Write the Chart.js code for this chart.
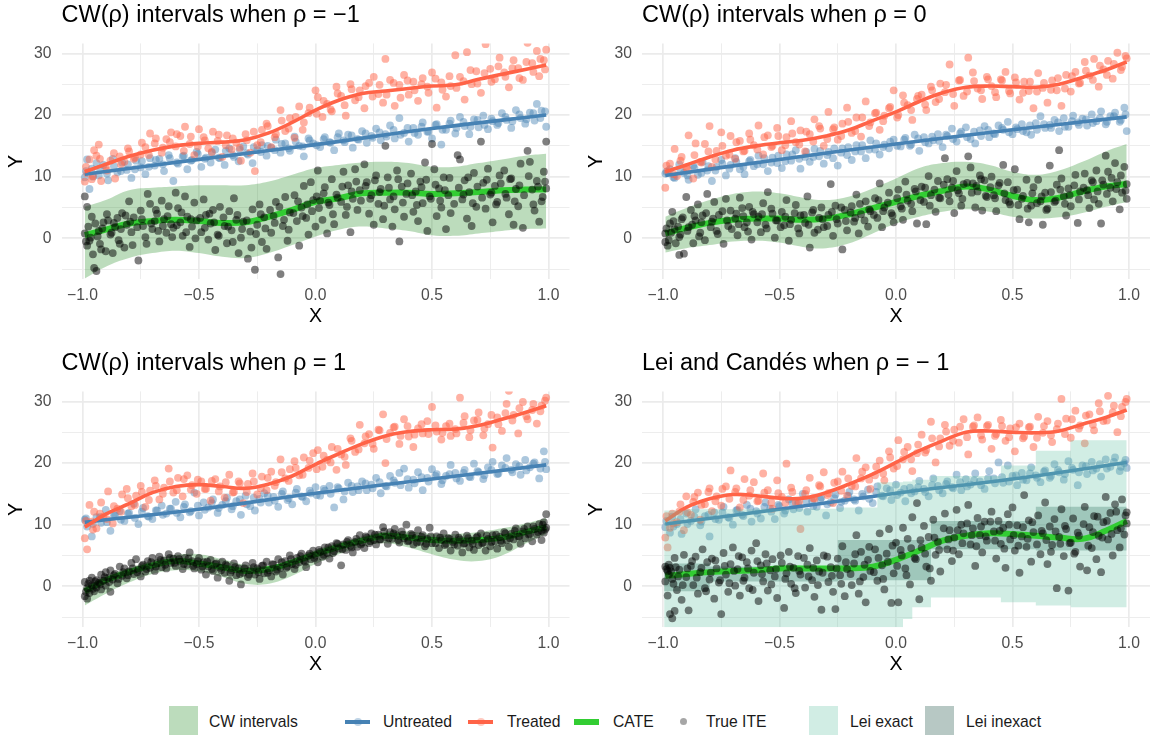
<!DOCTYPE html>
<html><head><meta charset="utf-8">
<script src="https://cdn.jsdelivr.net/npm/chart.js@4.4.0/dist/chart.umd.min.js"></script>
<style>
html,body{margin:0;padding:0;background:#fff;}
body{width:1154px;height:736px;position:relative;overflow:hidden;font-family:"Liberation Sans",Arial,sans-serif;}
canvas{position:absolute;}
.lg{position:absolute;font-size:15.7px;color:#1a1a1a;line-height:18px;top:712.7px;white-space:nowrap;}
.sw{position:absolute;top:706px;width:29px;height:29px;}
.ln{position:absolute;width:25px;}
.dot{position:absolute;border-radius:50%;}
</style></head><body>
<canvas id="c1" width="577" height="347" style="left:0;top:0"></canvas>
<canvas id="c2" width="577" height="347" style="left:577px;top:0"></canvas>
<canvas id="c3" width="577" height="347" style="left:0;top:348px"></canvas>
<canvas id="c4" width="577" height="347" style="left:577px;top:348px"></canvas>

<div class="sw" style="left:169px;background:rgba(34,139,34,0.3)"></div>
<div class="lg" style="left:209px">CW intervals</div>
<div class="ln" style="left:345px;top:719.5px;height:4px;background:#4682B4"></div>
<div class="dot" style="left:353.5px;top:717.5px;width:8px;height:8px;background:rgba(70,130,180,0.35)"></div>
<div class="lg" style="left:383px">Untreated</div>
<div class="ln" style="left:468px;top:719.5px;height:4px;background:#FF6347"></div>
<div class="dot" style="left:476.5px;top:717.5px;width:8px;height:8px;background:rgba(255,99,71,0.35)"></div>
<div class="lg" style="left:507px">Treated</div>
<div class="ln" style="left:574px;top:718.5px;height:6px;background:#32CD32"></div>
<div class="lg" style="left:613px">CATE</div>
<div class="dot" style="left:679.5px;top:718px;width:7px;height:7px;background:rgba(0,0,0,0.35)"></div>
<div class="lg" style="left:706px">True ITE</div>
<div class="sw" style="left:809px;background:rgba(102,194,165,0.3)"></div>
<div class="lg" style="left:850px">Lei exact</div>
<div class="sw" style="left:925px;background:rgba(18,72,58,0.3)"></div>
<div class="lg" style="left:966px">Lei inexact</div>

<script>
// ---------- axis ticks ----------
const xGrid = [-1,-0.75,-0.5,-0.25,0,0.25,0.5,0.75,1];
const xTickLabels = {"-1":"−1.0","-0.5":"−0.5","0":"0.0","0.5":"0.5","1":"1.0"};
const yGrid = [-5,0,5,10,15,20,25,30];
const yTickLabels = {"0":"0","10":"10","20":"20","30":"30"};

// ---------- titles ----------
const titles = ["CW(ρ) intervals when ρ = −1","CW(ρ) intervals when ρ = 0","CW(ρ) intervals when ρ = 1","Lei and Candés when ρ = − 1"];

// ---------- curve x positions ----------
const curveX = [-0.99,-0.9,-0.8,-0.7,-0.6,-0.5,-0.4,-0.3,-0.2,-0.1,0,0.1,0.2,0.3,0.4,0.5,0.6,0.7,0.8,0.9,0.99];
const untreatedX = [-0.99,-0.5,0,0.5,0.99];

// ---------- panel 1 (rho = -1) ----------
const p1TreatedCurve = [10.8,12.0,13.3,14.3,15.0,15.4,15.6,16.0,17.1,18.8,20.8,22.4,23.5,23.9,24.3,24.7,24.9,25.8,26.6,27.4,28.1];
const p1UntreatedCurve = [10.4,12.8,15.2,17.8,20.0];
const p1Cate = [0.5,1.4,2.4,2.8,3.0,2.8,2.5,2.6,3.5,4.6,5.9,6.5,7.3,7.4,7.4,7.2,7.3,7.5,7.8,7.9,7.9];
const p1Upper = [5.1,6.2,7.8,8.2,8.4,8.6,8.6,8.6,9.2,10.3,11.4,11.9,12.3,12.4,12.2,11.6,11.6,12.2,12.8,13.4,13.7];
const p1Lower = [-6.5,-4.6,-3.2,-2.4,-2.0,-2.4,-3.0,-3.2,-2.4,-1.1,0.3,1.4,1.9,1.6,1.2,0.5,0.4,0.8,1.2,1.5,1.6];
const p1Treated = [[-0.99,9.2],[-0.98,10.6],[-0.97,12.8],[-0.96,9.6],[-0.95,14.3],[-0.94,13.4],[-0.93,15.2],[-0.92,9.3],[-0.9,11.7],[-0.88,12.6],[-0.86,9.7],[-0.84,13.3],[-0.82,12.4],[-0.8,14.1],[-0.78,12.9],[-0.75,13.6],[-0.73,14.8],[-0.71,17.0],[-0.69,15.4],[-0.66,13.9],[-0.64,16.1],[-0.62,17.2],[-0.6,14.9],[-0.58,16.6],[-0.56,18.1],[-0.54,15.3],[-0.52,13.5],[-0.5,17.7],[-0.48,16.4],[-0.46,14.6],[-0.44,17.3],[-0.42,15.8],[-0.4,13.2],[-0.38,16.7],[-0.36,14.4],[-0.34,15.5],[-0.32,12.6],[-0.3,16.9],[-0.28,13.9],[-0.26,10.9],[-0.25,15.1],[-0.23,17.6],[-0.21,18.6],[-0.19,14.8],[-0.17,16.9],[-0.15,20.8],[-0.13,17.4],[-0.11,19.5],[-0.09,16.3],[-0.07,21.4],[-0.05,18.8],[-0.03,20.3],[0,24.0],[0.01,22.9],[0.03,19.7],[0.05,21.8],[0.07,20.6],[0.09,24.6],[0.11,23.1],[0.13,19.9],[0.15,25.0],[0.17,22.4],[0.19,24.0],[0.21,21.1],[0.23,25.2],[0.25,26.2],[0.27,23.4],[0.29,22.0],[0.3,29.1],[0.32,25.7],[0.34,21.5],[0.36,24.9],[0.38,26.5],[0.4,23.3],[0.42,25.4],[0.44,22.3],[0.46,26.0],[0.48,24.6],[0.5,26.9],[0.52,21.2],[0.54,25.3],[0.56,23.0],[0.58,24.7],[0.6,29.7],[0.62,26.2],[0.64,22.5],[0.65,30.2],[0.67,25.0],[0.69,27.1],[0.71,23.6],[0.73,31.5],[0.75,27.5],[0.77,25.8],[0.79,29.3],[0.81,26.9],[0.83,24.5],[0.85,28.9],[0.87,27.6],[0.89,25.7],[0.91,31.7],[0.93,28.4],[0.95,30.4],[0.96,26.3],[0.98,28.9],[0.99,30.6]];
const p1TreatedB = [[-0.985,11.6],[-0.955,10.1],[-0.925,12.9],[-0.895,11.0],[-0.865,13.8],[-0.835,12.0],[-0.805,14.6],[-0.775,13.1],[-0.745,15.5],[-0.715,13.5],[-0.685,16.2],[-0.655,14.7],[-0.625,15.6],[-0.595,16.9],[-0.565,14.2],[-0.535,16.5],[-0.505,14.9],[-0.475,15.9],[-0.445,14.0],[-0.415,16.8],[-0.385,15.1],[-0.355,16.2],[-0.325,14.7],[-0.295,15.9],[-0.265,17.3],[-0.235,15.6],[-0.205,18.2],[-0.175,16.4],[-0.145,19.1],[-0.115,17.8],[-0.085,19.7],[-0.055,17.6],[-0.025,21.2],[0.005,20.2],[0.035,22.3],[0.065,20.9],[0.095,23.5],[0.125,21.6],[0.155,24.2],[0.185,22.9],[0.215,24.7],[0.245,23.0],[0.275,24.9],[0.305,23.3],[0.335,25.2],[0.365,22.8],[0.395,25.6],[0.425,24.0],[0.455,25.0],[0.485,23.6],[0.515,25.9],[0.545,24.1],[0.575,26.3],[0.605,24.4],[0.635,25.5],[0.665,27.3],[0.695,25.1],[0.725,26.8],[0.755,25.4],[0.785,27.9],[0.815,26.2],[0.845,27.6],[0.875,26.0],[0.905,28.6],[0.935,27.0],[0.965,29.1],[0.985,27.4]];
const p1Untreated = [[-0.99,9.9],[-0.98,12.8],[-0.97,8.0],[-0.96,11.3],[-0.94,12.2],[-0.93,10.2],[-0.91,11.9],[-0.89,9.4],[-0.87,12.9],[-0.85,10.7],[-0.83,12.3],[-0.81,11.1],[-0.79,9.8],[-0.77,12.6],[-0.75,11.5],[-0.73,10.4],[-0.71,13.0],[-0.69,11.8],[-0.67,12.9],[-0.65,10.9],[-0.63,13.5],[-0.61,9.3],[-0.59,12.1],[-0.57,13.3],[-0.55,11.2],[-0.53,12.7],[-0.51,14.0],[-0.49,11.6],[-0.47,13.1],[-0.45,12.3],[-0.43,14.4],[-0.41,13.0],[-0.39,11.9],[-0.37,14.6],[-0.35,13.2],[-0.33,12.5],[-0.31,14.9],[-0.29,13.6],[-0.27,12.2],[-0.25,14.3],[-0.23,15.1],[-0.21,13.4],[-0.19,14.7],[-0.17,16.0],[-0.15,13.9],[-0.13,15.4],[-0.11,14.2],[-0.09,16.5],[-0.07,15.0],[-0.05,13.3],[-0.03,16.2],[-0.01,15.4],[0.02,14.8],[0.04,16.4],[0.06,15.6],[0.08,14.3],[0.1,17.0],[0.12,15.9],[0.14,16.8],[0.16,14.7],[0.18,16.1],[0.2,17.4],[0.22,15.5],[0.24,16.6],[0.26,17.8],[0.28,15.9],[0.3,16.9],[0.32,18.3],[0.34,16.2],[0.36,19.5],[0.38,17.1],[0.4,15.7],[0.42,17.9],[0.44,16.8],[0.46,18.8],[0.48,17.3],[0.5,16.2],[0.52,18.5],[0.54,15.2],[0.56,17.6],[0.58,19.1],[0.6,17.0],[0.62,19.7],[0.64,18.2],[0.66,16.9],[0.68,19.3],[0.7,18.0],[0.72,19.9],[0.74,17.7],[0.76,19.0],[0.78,18.4],[0.8,20.3],[0.82,19.2],[0.84,17.9],[0.86,20.8],[0.88,19.5],[0.9,18.6],[0.92,20.4],[0.94,19.1],[0.95,21.8],[0.97,20.7],[0.99,18.1]];
const p1UntreatedB = [[-0.985,10.9],[-0.955,10.0],[-0.925,11.3],[-0.895,10.5],[-0.865,11.7],[-0.835,10.9],[-0.805,12.0],[-0.775,11.2],[-0.745,12.5],[-0.715,11.6],[-0.685,12.7],[-0.655,12.0],[-0.625,13.0],[-0.595,12.3],[-0.565,13.4],[-0.535,12.6],[-0.505,13.7],[-0.475,12.9],[-0.445,13.9],[-0.415,13.1],[-0.385,14.2],[-0.355,13.5],[-0.325,14.4],[-0.295,13.8],[-0.265,14.8],[-0.235,14.0],[-0.205,15.0],[-0.175,14.3],[-0.145,15.3],[-0.115,14.6],[-0.085,15.7],[-0.055,14.9],[-0.025,15.9],[0.005,15.1],[0.035,16.1],[0.065,15.5],[0.095,16.4],[0.125,15.6],[0.155,16.7],[0.185,16.0],[0.215,17.0],[0.245,16.3],[0.275,17.2],[0.305,16.5],[0.335,17.6],[0.365,16.8],[0.395,17.9],[0.425,17.1],[0.455,18.1],[0.485,17.3],[0.515,18.4],[0.545,17.6],[0.575,18.6],[0.605,17.9],[0.635,18.9],[0.665,18.1],[0.695,19.2],[0.725,18.4],[0.755,19.4],[0.785,18.7],[0.815,19.7],[0.845,19.0],[0.875,20.1],[0.905,19.3],[0.935,20.3],[0.965,19.5],[0.985,20.6]];
const p1Ite = [[-0.99,0.8],[-0.98,-1.2],[-0.98,5.1],[-0.97,-0.4],[-0.96,3.5],[-0.95,-4.8],[-0.94,-5.3],[-0.99,6.8],[-0.93,1.2],[-0.92,-1.8],[-0.91,2.6],[-0.9,-2.1],[-0.89,2.9],[-0.88,0.6],[-0.87,-2.4],[-0.86,1.8],[-0.85,3.3],[-0.84,-0.9],[-0.83,4.1],[-0.82,-1.5],[-0.81,2.2],[-0.8,6.0],[-0.79,1.0],[-0.78,3.4],[-0.76,-3.6],[-0.75,4.5],[-0.74,2.0],[-0.73,0.2],[-0.72,7.2],[-0.71,5.6],[-0.7,1.5],[-0.69,2.8],[-0.68,4.0],[-0.67,-0.5],[-0.66,6.1],[-0.65,3.1],[-0.64,0.9],[-0.63,5.2],[-0.62,2.3],[-0.61,1.7],[-0.6,7.4],[-0.59,4.9],[-0.58,2.6],[-0.57,0.4],[-0.56,6.8],[-0.55,3.5],[-0.54,-1.4],[-0.53,1.9],[-0.52,5.8],[-0.51,2.9],[-0.49,1.0],[-0.48,6.3],[-0.47,3.8],[-0.46,-0.2],[-0.45,2.4],[-0.44,4.6],[-0.43,-1.9],[-0.42,0.6],[-0.41,5.1],[-0.39,2.0],[-0.38,-0.8],[-0.37,4.4],[-0.36,1.3],[-0.35,6.5],[-0.34,3.0],[-0.33,-2.4],[-0.32,0.1],[-0.31,2.7],[-0.29,-3.3],[-0.28,1.1],[-0.27,4.7],[-0.26,-5.1],[-0.25,2.2],[-0.24,5.5],[-0.23,-0.6],[-0.22,3.4],[-0.21,-1.7],[-0.19,0.9],[-0.18,3.6],[-0.17,5.9],[-0.16,-3.1],[-0.15,-5.8],[-0.14,2.0],[-0.13,6.7],[-0.12,-0.4],[-0.11,4.2],[-0.09,7.0],[-0.08,2.8],[-0.07,-1.2],[-0.06,5.0],[-0.05,8.5],[-0.04,3.3],[-0.03,0.6],[-0.02,9.1],[-0.01,6.2],[0,1.9],[0.01,11.0],[0.02,6.1],[0.03,3.0],[0.04,8.3],[0.05,0.8],[0.06,5.4],[0.07,9.6],[0.08,2.3],[0.09,7.1],[0.11,5.9],[0.12,10.8],[0.13,3.8],[0.14,8.6],[0.15,1.0],[0.16,6.4],[0.17,11.2],[0.18,4.6],[0.19,7.8],[0.21,12.0],[0.22,9.1],[0.23,4.0],[0.24,7.0],[0.25,2.2],[0.26,10.2],[0.27,5.6],[0.28,8.0],[0.29,3.1],[0.3,15.0],[0.31,9.9],[0.32,6.3],[0.33,1.9],[0.34,4.7],[0.35,11.0],[0.36,-0.5],[0.37,8.4],[0.38,3.5],[0.39,7.2],[0.41,10.5],[0.42,4.3],[0.43,7.6],[0.44,2.8],[0.45,9.2],[0.46,5.7],[0.47,12.3],[0.48,1.2],[0.49,6.8],[0.5,15.3],[0.51,11.2],[0.52,3.6],[0.53,8.1],[0.54,5.0],[0.55,9.9],[0.56,1.5],[0.57,7.0],[0.58,4.1],[0.61,13.5],[0.62,12.8],[0.63,6.3],[0.64,9.4],[0.65,3.2],[0.66,7.5],[0.67,2.0],[0.68,10.6],[0.69,5.1],[0.71,15.7],[0.72,9.0],[0.73,4.8],[0.74,11.3],[0.75,7.1],[0.76,2.6],[0.77,8.5],[0.78,5.9],[0.79,10.2],[0.81,11.0],[0.82,6.6],[0.83,3.9],[0.84,9.7],[0.85,2.2],[0.86,8.0],[0.87,5.2],[0.88,12.1],[0.89,1.7],[0.91,14.2],[0.92,12.4],[0.93,7.9],[0.94,4.5],[0.95,9.3],[0.96,2.7],[0.97,6.0],[0.98,10.8],[0.99,15.7],[0.99,8.1]];
const p1IteB = [[-0.985,-0.5],[-0.975,1.9],[-0.965,0.1],[-0.955,-2.6],[-0.945,2.4],[-0.935,0.3],[-0.925,-0.9],[-0.915,1.6],[-0.895,3.9],[-0.875,0.9],[-0.865,2.5],[-0.845,-0.3],[-0.835,1.5],[-0.815,3.7],[-0.795,2.7],[-0.785,-1.1],[-0.765,1.8],[-0.745,3.1],[-0.725,-0.9],[-0.705,2.4],[-0.685,4.6],[-0.675,1.2],[-0.655,2.0],[-0.635,3.6],[-0.615,0.2],[-0.595,2.1],[-0.575,4.2],[-0.555,1.0],[-0.535,3.1],[-0.515,0.0],[-0.495,3.3],[-0.475,1.7],[-0.455,4.0],[-0.435,2.6],[-0.415,0.4],[-0.395,3.4],[-0.375,1.9],[-0.355,-0.6],[-0.335,3.8],[-0.315,1.5],[-0.295,2.9],[-0.275,-1.5],[-0.255,0.7],[-0.235,3.9],[-0.215,1.6],[-0.195,4.6],[-0.175,2.5],[-0.155,5.1],[-0.135,3.0],[-0.115,1.4],[-0.095,4.1],[-0.075,6.0],[-0.055,3.6],[-0.035,5.5],[-0.015,4.4],[0.005,6.8],[0.015,4.9],[0.035,7.3],[0.055,5.8],[0.075,3.9],[0.095,6.6],[0.115,8.4],[0.135,5.1],[0.155,7.6],[0.175,9.2],[0.195,6.1],[0.215,8.5],[0.235,6.4],[0.255,9.4],[0.275,7.5],[0.295,5.3],[0.315,8.2],[0.335,6.8],[0.355,9.6],[0.375,5.8],[0.395,8.9],[0.415,7.0],[0.435,5.4],[0.455,8.3],[0.475,9.5],[0.495,6.4],[0.515,8.7],[0.535,6.1],[0.555,7.8],[0.575,9.8],[0.595,5.6],[0.615,8.2],[0.635,7.1],[0.655,9.9],[0.675,5.7],[0.695,8.4],[0.715,6.6],[0.735,9.5],[0.755,7.4],[0.775,5.5],[0.795,8.9],[0.815,7.2],[0.835,9.6],[0.855,6.0],[0.875,8.6],[0.895,7.0],[0.915,10.1],[0.935,5.5],[0.955,8.4],[0.975,6.7],[0.985,9.2]];

// ---------- panel 2 (rho = 0) ----------
const p2TreatedCurve = [10.8,11.9,13.2,14.3,15.0,15.5,15.9,16.6,17.6,19.1,20.5,22.2,23.6,24.5,24.7,24.6,24.5,25.0,26.1,27.3,28.6];
const p2UntreatedCurve = [10.2,12.8,15.3,17.6,19.7];
const p2Cate = [0.8,1.7,2.5,3.0,3.2,3.2,3.0,3.2,3.9,4.9,5.9,6.9,7.7,8.4,7.9,6.9,6.2,6.6,7.6,8.4,8.8];
const p2Upper = [3.5,4.9,6.2,7.2,7.6,7.3,6.6,6.2,6.8,8.1,9.7,11.4,12.2,12.4,11.9,10.8,10.3,11.0,12.4,14.1,15.3];
const p2Lower = [-2.3,-1.6,-1.1,-0.5,-0.4,-0.7,-1.4,-1.6,-0.8,0.8,2.4,3.5,4.3,4.7,4.3,3.5,3.2,3.4,4.1,5.1,5.9];
const p2Treated = [[-0.99,8.2],[-0.98,10.9],[-0.97,12.1],[-0.95,14.5],[-0.94,10.1],[-0.92,13.2],[-0.9,11.5],[-0.89,16.7],[-0.87,9.7],[-0.86,15.4],[-0.84,12.4],[-0.82,15.3],[-0.8,18.2],[-0.79,11.6],[-0.77,14.2],[-0.75,17.2],[-0.73,13.4],[-0.71,16.6],[-0.69,12.9],[-0.67,15.8],[-0.65,14.2],[-0.63,17.0],[-0.61,15.1],[-0.59,18.3],[-0.57,13.6],[-0.55,16.7],[-0.53,15.0],[-0.51,17.9],[-0.49,14.3],[-0.47,16.4],[-0.45,19.0],[-0.43,15.6],[-0.41,17.5],[-0.39,14.1],[-0.37,16.9],[-0.35,19.3],[-0.33,18.2],[-0.31,15.0],[-0.29,20.5],[-0.27,17.7],[-0.25,16.0],[-0.23,18.6],[-0.21,21.2],[-0.19,17.1],[-0.17,19.6],[-0.15,16.5],[-0.13,22.2],[-0.11,18.8],[-0.09,20.3],[-0.07,17.6],[-0.05,19.9],[-0.03,21.1],[-0.01,24.0],[0.01,20.0],[0.03,23.2],[0.05,21.6],[0.07,19.2],[0.09,22.6],[0.11,23.3],[0.13,20.8],[0.15,24.6],[0.17,22.1],[0.19,25.1],[0.21,23.7],[0.23,28.2],[0.25,21.5],[0.27,25.6],[0.29,23.1],[0.31,29.3],[0.33,26.9],[0.35,24.3],[0.37,22.6],[0.39,26.2],[0.41,24.7],[0.43,22.9],[0.45,25.8],[0.47,27.0],[0.49,23.5],[0.51,26.1],[0.53,22.5],[0.55,25.4],[0.57,23.9],[0.59,21.1],[0.61,26.8],[0.63,24.4],[0.65,22.0],[0.67,25.6],[0.69,24.0],[0.71,21.5],[0.73,26.5],[0.75,23.8],[0.77,27.0],[0.79,25.2],[0.81,28.6],[0.83,26.4],[0.85,29.1],[0.87,24.6],[0.89,27.4],[0.91,28.8],[0.93,25.9],[0.95,30.1],[0.97,27.8],[0.99,29.2]];
const p2TreatedB = [[-0.985,11.8],[-0.955,10.4],[-0.925,12.6],[-0.895,11.2],[-0.865,13.5],[-0.835,12.3],[-0.805,14.1],[-0.775,12.8],[-0.745,15.0],[-0.715,13.6],[-0.685,15.6],[-0.655,14.1],[-0.625,16.0],[-0.595,14.4],[-0.565,16.4],[-0.535,14.8],[-0.505,16.6],[-0.475,15.1],[-0.445,17.0],[-0.415,15.2],[-0.385,17.3],[-0.355,15.7],[-0.325,17.8],[-0.295,16.1],[-0.265,18.0],[-0.235,16.6],[-0.205,18.9],[-0.175,17.4],[-0.145,19.6],[-0.115,18.2],[-0.085,20.4],[-0.055,19.0],[-0.025,21.3],[0.005,19.6],[0.035,22.0],[0.065,20.8],[0.095,23.1],[0.125,21.7],[0.155,24.0],[0.185,22.6],[0.215,24.9],[0.245,23.4],[0.275,25.7],[0.305,23.8],[0.335,25.5],[0.365,24.0],[0.395,25.8],[0.425,23.7],[0.455,25.6],[0.485,23.9],[0.515,25.3],[0.545,23.6],[0.575,25.4],[0.605,23.8],[0.635,25.2],[0.665,24.1],[0.695,26.0],[0.725,24.3],[0.755,26.3],[0.785,25.1],[0.815,27.2],[0.845,25.7],[0.875,28.0],[0.905,26.5],[0.935,28.3],[0.965,27.3],[0.985,29.6]];
const p2Untreated = [[-0.99,10.5],[-0.97,11.2],[-0.95,9.8],[-0.93,12.0],[-0.91,10.6],[-0.89,9.5],[-0.87,11.8],[-0.85,10.3],[-0.83,12.4],[-0.81,11.0],[-0.79,9.3],[-0.77,11.6],[-0.75,12.7],[-0.73,10.2],[-0.71,11.9],[-0.69,13.0],[-0.67,11.2],[-0.65,10.4],[-0.63,12.5],[-0.61,11.7],[-0.59,13.4],[-0.57,12.0],[-0.55,10.9],[-0.53,13.1],[-0.51,12.2],[-0.49,11.4],[-0.47,13.6],[-0.45,12.6],[-0.43,14.3],[-0.41,11.3],[-0.39,13.2],[-0.37,12.4],[-0.35,14.5],[-0.33,13.3],[-0.31,12.1],[-0.29,14.0],[-0.27,13.0],[-0.25,11.8],[-0.23,14.6],[-0.21,13.5],[-0.19,12.7],[-0.17,15.1],[-0.15,14.1],[-0.13,13.0],[-0.11,15.9],[-0.09,14.4],[-0.07,13.6],[-0.05,15.2],[-0.03,14.6],[-0.01,16.0],[0.02,14.9],[0.04,16.3],[0.06,15.0],[0.08,16.8],[0.1,14.2],[0.12,16.4],[0.14,15.4],[0.16,15.9],[0.18,16.9],[0.2,14.8],[0.22,16.6],[0.24,17.8],[0.26,15.7],[0.28,17.3],[0.3,18.0],[0.32,16.1],[0.34,15.4],[0.36,17.5],[0.38,18.2],[0.4,16.4],[0.42,17.0],[0.44,18.3],[0.46,17.6],[0.48,18.9],[0.5,16.9],[0.52,17.7],[0.54,18.5],[0.56,17.2],[0.58,16.8],[0.6,18.7],[0.62,19.8],[0.64,17.9],[0.66,18.4],[0.68,19.2],[0.7,17.4],[0.72,19.5],[0.74,18.1],[0.76,19.9],[0.78,18.8],[0.8,19.4],[0.82,18.3],[0.84,20.1],[0.86,19.0],[0.88,20.6],[0.9,18.5],[0.92,19.8],[0.94,20.4],[0.96,18.9],[0.98,21.2],[0.99,17.4]];
const p2UntreatedB = [[-0.985,10.8],[-0.955,9.9],[-0.925,11.0],[-0.895,10.2],[-0.865,11.4],[-0.835,10.6],[-0.805,11.7],[-0.775,11.0],[-0.745,12.1],[-0.715,11.3],[-0.685,12.4],[-0.655,11.6],[-0.625,12.7],[-0.595,12.0],[-0.565,13.0],[-0.535,12.3],[-0.505,13.4],[-0.475,12.5],[-0.445,13.6],[-0.415,12.9],[-0.385,14.0],[-0.355,13.2],[-0.325,14.2],[-0.295,13.5],[-0.265,14.6],[-0.235,13.9],[-0.205,14.8],[-0.175,14.1],[-0.145,15.1],[-0.115,14.4],[-0.085,15.4],[-0.055,14.8],[-0.025,15.7],[0.005,15.0],[0.035,16.0],[0.065,15.2],[0.095,16.2],[0.125,15.6],[0.155,16.5],[0.185,15.8],[0.215,16.8],[0.245,16.1],[0.275,17.0],[0.305,16.4],[0.335,17.3],[0.365,16.6],[0.395,17.6],[0.425,16.9],[0.455,17.9],[0.485,17.2],[0.515,18.0],[0.545,17.4],[0.575,18.3],[0.605,17.6],[0.635,18.5],[0.665,17.9],[0.695,18.8],[0.725,18.1],[0.755,19.0],[0.785,18.4],[0.815,19.3],[0.845,18.7],[0.875,19.5],[0.905,18.9],[0.935,19.8],[0.965,19.2],[0.985,20.1]];
const p2Ite = [[-0.99,0.8],[-0.99,-0.6],[-0.98,-1.2],[-0.97,2.4],[-0.96,4.3],[-0.95,1.5],[-0.93,-2.7],[-0.93,0.2],[-0.92,3.1],[-0.91,-2.5],[-0.9,6.7],[-0.89,1.8],[-0.88,4.6],[-0.87,-0.8],[-0.86,2.9],[-0.85,5.5],[-0.84,0.9],[-0.83,3.7],[-0.82,-0.3],[-0.81,7.2],[-0.79,2.7],[-0.78,5.9],[-0.77,1.2],[-0.76,3.8],[-0.74,-0.9],[-0.73,6.4],[-0.72,2.0],[-0.71,4.5],[-0.69,3.2],[-0.68,0.5],[-0.67,6.6],[-0.66,4.9],[-0.65,1.8],[-0.64,2.6],[-0.63,5.1],[-0.62,-0.2],[-0.61,3.9],[-0.59,3.5],[-0.58,1.0],[-0.57,5.7],[-0.56,2.2],[-0.55,7.5],[-0.53,4.0],[-0.52,0.1],[-0.51,2.9],[-0.49,4.3],[-0.48,2.1],[-0.47,6.2],[-0.46,-0.4],[-0.45,3.0],[-0.43,5.4],[-0.42,1.6],[-0.41,3.7],[-0.39,2.5],[-0.38,6.8],[-0.37,-1.5],[-0.36,4.2],[-0.35,0.9],[-0.33,3.3],[-0.32,5.0],[-0.31,1.8],[-0.29,3.8],[-0.28,8.8],[-0.27,0.4],[-0.26,5.3],[-0.25,2.4],[-0.23,-1.8],[-0.22,4.6],[-0.21,1.3],[-0.19,5.2],[-0.18,2.7],[-0.17,7.1],[-0.16,0.8],[-0.15,3.9],[-0.13,6.0],[-0.12,1.9],[-0.11,4.4],[-0.09,6.5],[-0.08,3.3],[-0.07,8.9],[-0.06,1.8],[-0.05,5.0],[-0.03,7.4],[-0.02,4.1],[-0.01,2.6],[0.01,7.9],[0.02,5.2],[0.03,3.0],[0.04,9.2],[0.05,6.1],[0.07,4.4],[0.08,8.0],[0.09,2.4],[0.11,8.4],[0.12,5.9],[0.13,2.3],[0.14,10.1],[0.15,7.0],[0.17,4.3],[0.18,9.3],[0.19,6.5],[0.21,13.0],[0.22,9.6],[0.23,6.0],[0.24,8.2],[0.25,4.1],[0.26,10.9],[0.27,7.3],[0.28,5.3],[0.29,8.8],[0.31,13.3],[0.32,11.5],[0.33,8.9],[0.34,5.0],[0.35,7.6],[0.36,10.2],[0.37,4.5],[0.38,9.4],[0.39,6.7],[0.41,10.0],[0.42,7.0],[0.43,4.4],[0.44,8.6],[0.46,11.9],[0.47,6.2],[0.48,9.1],[0.49,5.5],[0.51,11.2],[0.52,7.9],[0.53,3.1],[0.54,6.4],[0.56,9.5],[0.57,2.6],[0.58,5.3],[0.59,8.3],[0.61,9.5],[0.62,6.0],[0.63,2.2],[0.64,7.4],[0.65,4.8],[0.66,11.8],[0.68,5.9],[0.69,8.7],[0.7,14.3],[0.71,9.7],[0.72,6.8],[0.73,3.7],[0.74,8.1],[0.75,5.2],[0.77,10.3],[0.78,2.5],[0.79,7.6],[0.81,10.5],[0.82,7.8],[0.83,4.9],[0.84,9.4],[0.85,6.3],[0.86,11.0],[0.87,5.6],[0.88,2.4],[0.89,8.7],[0.9,13.4],[0.91,10.8],[0.92,8.2],[0.93,6.0],[0.94,12.2],[0.95,9.1],[0.96,4.7],[0.97,7.4],[0.98,11.6],[0.99,6.4],[0.99,8.8]];
const p2IteB = [[-0.985,1.6],[-0.975,-0.3],[-0.965,0.9],[-0.955,2.8],[-0.945,-0.8],[-0.935,1.9],[-0.925,0.6],[-0.915,3.4],[-0.895,1.2],[-0.875,2.2],[-0.865,3.6],[-0.845,0.3],[-0.835,2.6],[-0.815,4.1],[-0.795,1.8],[-0.785,3.2],[-0.765,0.7],[-0.745,4.4],[-0.725,2.9],[-0.705,1.5],[-0.685,4.0],[-0.675,2.3],[-0.655,3.6],[-0.635,1.1],[-0.615,4.3],[-0.595,2.6],[-0.575,3.9],[-0.555,1.6],[-0.535,4.8],[-0.515,2.9],[-0.495,1.8],[-0.475,3.5],[-0.455,2.3],[-0.435,4.1],[-0.415,0.8],[-0.395,3.8],[-0.375,2.2],[-0.355,4.6],[-0.335,1.4],[-0.315,3.1],[-0.295,2.0],[-0.275,4.3],[-0.255,3.1],[-0.235,5.0],[-0.215,2.8],[-0.195,4.2],[-0.175,3.3],[-0.155,5.6],[-0.135,2.9],[-0.115,4.7],[-0.095,3.8],[-0.075,6.2],[-0.055,4.4],[-0.035,5.8],[-0.015,3.7],[0.005,6.5],[0.025,4.8],[0.045,7.1],[0.065,5.6],[0.085,7.6],[0.105,6.2],[0.125,8.2],[0.145,5.3],[0.165,7.9],[0.185,6.6],[0.205,8.7],[0.225,7.1],[0.245,9.3],[0.265,7.8],[0.285,6.4],[0.305,9.0],[0.325,7.4],[0.345,8.5],[0.365,9.6],[0.385,6.9],[0.405,8.3],[0.425,6.5],[0.445,9.0],[0.465,7.3],[0.485,5.9],[0.505,7.8],[0.525,5.4],[0.545,6.9],[0.565,4.8],[0.585,7.3],[0.605,5.7],[0.625,6.8],[0.645,4.6],[0.665,7.5],[0.685,6.1],[0.705,7.9],[0.725,5.6],[0.745,7.0],[0.765,8.6],[0.785,6.3],[0.805,8.2],[0.825,7.0],[0.845,9.1],[0.865,7.6],[0.885,9.4],[0.905,7.2],[0.925,9.8],[0.945,8.0],[0.965,10.2],[0.985,7.7]];

// ---------- panel 3 (rho = 1) ----------
const p3TreatedCurve = [9.6,11.7,13.4,15.2,16.2,16.5,16.2,15.9,16.6,17.9,19.8,21.5,23.1,24.4,25.1,25.4,25.5,26.1,27.1,28.2,29.3];
const p3UntreatedCurve = [10.4,12.5,15.1,17.4,19.7];
const p3Cate = [-0.8,1.0,2.3,3.4,4.1,3.7,3.1,2.5,2.8,3.9,5.2,6.4,7.4,8.2,7.9,7.5,7.4,7.5,7.9,8.8,9.6];
const p3Upper = [0.0,1.7,3.0,4.2,5.1,5.2,4.4,3.5,3.4,4.4,5.9,7.1,8.1,8.9,8.9,8.5,8.5,8.8,9.4,10.2,11.1];
const p3Lower = [-3.1,-1.2,0.6,2.0,2.6,2.4,1.5,0.4,0.4,1.7,3.6,5.2,6.4,7.0,6.3,5.2,4.3,4.1,5.0,6.9,8.5];
const p3Treated = [[-0.99,7.8],[-0.98,6.0],[-0.97,13.2],[-0.96,10.5],[-0.95,12.1],[-0.94,9.4],[-0.92,13.6],[-0.91,11.3],[-0.89,15.4],[-0.87,10.2],[-0.85,12.6],[-0.83,14.9],[-0.81,15.8],[-0.79,13.0],[-0.77,14.7],[-0.75,16.3],[-0.73,12.9],[-0.71,15.5],[-0.69,17.2],[-0.67,14.1],[-0.65,16.0],[-0.63,19.1],[-0.61,15.2],[-0.59,17.6],[-0.57,14.6],[-0.55,18.0],[-0.53,16.4],[-0.51,15.0],[-0.49,17.0],[-0.47,15.8],[-0.45,13.9],[-0.43,17.4],[-0.41,16.2],[-0.39,14.4],[-0.37,18.1],[-0.35,15.3],[-0.33,17.0],[-0.31,13.5],[-0.29,16.6],[-0.27,18.3],[-0.25,14.9],[-0.23,17.8],[-0.21,15.6],[-0.19,18.6],[-0.17,16.9],[-0.15,20.6],[-0.13,17.5],[-0.11,19.0],[-0.09,20.3],[-0.07,18.0],[-0.05,20.9],[-0.03,19.2],[-0.01,21.6],[0.01,22.1],[0.03,19.4],[0.05,20.5],[0.07,22.6],[0.09,18.9],[0.11,21.4],[0.13,19.7],[0.15,24.0],[0.17,21.8],[0.19,26.2],[0.21,23.2],[0.23,24.7],[0.25,22.3],[0.27,25.4],[0.29,27.9],[0.3,20.0],[0.32,24.9],[0.34,25.9],[0.36,23.1],[0.38,27.1],[0.4,24.3],[0.42,22.6],[0.44,25.6],[0.46,24.8],[0.48,26.8],[0.5,29.1],[0.52,25.1],[0.54,23.8],[0.56,26.0],[0.58,24.4],[0.6,25.5],[0.62,30.6],[0.64,27.6],[0.66,24.2],[0.68,26.9],[0.7,28.2],[0.72,24.5],[0.74,26.3],[0.76,22.5],[0.78,27.4],[0.8,25.2],[0.82,29.6],[0.83,31.7],[0.85,27.8],[0.87,24.8],[0.89,29.9],[0.91,27.1],[0.93,28.6],[0.95,26.4],[0.97,29.3],[0.99,30.6]];
const p3TreatedB = [[-0.985,10.6],[-0.955,9.2],[-0.925,11.8],[-0.895,10.9],[-0.865,13.0],[-0.835,12.1],[-0.805,14.3],[-0.775,13.2],[-0.745,15.3],[-0.715,14.0],[-0.685,16.3],[-0.655,15.0],[-0.625,17.0],[-0.595,15.6],[-0.565,17.4],[-0.535,15.7],[-0.505,17.3],[-0.475,15.8],[-0.445,17.1],[-0.415,15.4],[-0.385,16.9],[-0.355,15.2],[-0.325,16.7],[-0.295,15.3],[-0.265,17.0],[-0.235,15.9],[-0.205,17.6],[-0.175,16.3],[-0.145,18.5],[-0.115,17.1],[-0.085,19.2],[-0.055,18.1],[-0.025,20.4],[0.005,19.0],[0.035,21.2],[0.065,20.1],[0.095,22.3],[0.125,21.0],[0.155,23.6],[0.185,22.2],[0.215,24.3],[0.245,23.1],[0.275,25.3],[0.305,23.9],[0.335,25.8],[0.365,24.4],[0.395,26.0],[0.425,24.6],[0.455,26.3],[0.485,24.7],[0.515,26.1],[0.545,24.9],[0.575,26.4],[0.605,24.8],[0.635,26.5],[0.665,25.3],[0.695,27.0],[0.725,25.6],[0.755,27.8],[0.785,26.3],[0.815,28.1],[0.845,26.9],[0.875,28.9],[0.905,27.6],[0.935,29.6],[0.965,28.4],[0.985,30.1]];
const p3Untreated = [[-0.99,10.8],[-0.98,9.7],[-0.96,8.1],[-0.94,11.2],[-0.92,10.3],[-0.9,12.4],[-0.88,9.0],[-0.86,11.5],[-0.84,12.2],[-0.82,10.6],[-0.8,11.9],[-0.78,13.4],[-0.76,10.1],[-0.74,12.7],[-0.72,11.4],[-0.7,10.9],[-0.68,12.3],[-0.66,13.1],[-0.64,11.8],[-0.62,12.6],[-0.6,13.7],[-0.58,11.2],[-0.56,13.3],[-0.54,12.0],[-0.52,15.2],[-0.5,11.5],[-0.48,13.6],[-0.46,12.8],[-0.44,14.1],[-0.42,11.9],[-0.4,13.2],[-0.38,14.4],[-0.36,12.5],[-0.34,13.8],[-0.32,11.6],[-0.3,14.7],[-0.28,13.0],[-0.26,12.3],[-0.24,14.2],[-0.22,15.1],[-0.2,13.6],[-0.18,14.5],[-0.16,12.9],[-0.14,15.4],[-0.12,14.0],[-0.1,13.3],[-0.08,15.8],[-0.06,14.6],[-0.04,13.8],[-0.02,15.1],[0,16.1],[0.02,14.7],[0.04,15.5],[0.06,16.3],[0.08,12.8],[0.1,15.9],[0.12,14.1],[0.14,16.8],[0.16,15.3],[0.18,16.2],[0.2,17.0],[0.22,15.6],[0.24,16.5],[0.26,17.6],[0.28,15.1],[0.3,16.3],[0.32,17.9],[0.34,16.8],[0.36,18.4],[0.38,19.1],[0.4,16.0],[0.42,17.3],[0.44,18.5],[0.46,15.6],[0.48,17.6],[0.5,19.0],[0.52,18.2],[0.54,16.6],[0.56,17.9],[0.58,19.7],[0.6,18.4],[0.62,17.1],[0.64,18.9],[0.66,17.8],[0.68,19.9],[0.7,18.5],[0.72,17.4],[0.74,19.3],[0.76,20.2],[0.78,18.2],[0.8,19.6],[0.82,20.8],[0.84,18.9],[0.86,19.8],[0.88,18.1],[0.9,20.5],[0.92,19.3],[0.94,20.1],[0.96,17.5],[0.98,21.9],[0.99,19.0]];
const p3UntreatedB = [[-0.985,11.0],[-0.955,10.1],[-0.925,11.2],[-0.895,10.4],[-0.865,11.5],[-0.835,10.8],[-0.805,11.8],[-0.775,11.1],[-0.745,12.1],[-0.715,11.3],[-0.685,12.3],[-0.655,11.6],[-0.625,12.6],[-0.595,11.9],[-0.565,12.9],[-0.535,12.2],[-0.505,13.1],[-0.475,12.4],[-0.445,13.5],[-0.415,12.7],[-0.385,13.8],[-0.355,13.0],[-0.325,14.1],[-0.295,13.3],[-0.265,14.4],[-0.235,13.6],[-0.205,14.7],[-0.175,13.9],[-0.145,15.0],[-0.115,14.3],[-0.085,15.2],[-0.055,14.5],[-0.025,15.5],[0.005,14.8],[0.035,15.8],[0.065,15.0],[0.095,16.1],[0.125,15.4],[0.155,16.3],[0.185,15.6],[0.215,16.7],[0.245,15.9],[0.275,16.9],[0.305,16.2],[0.335,17.2],[0.365,16.4],[0.395,17.4],[0.425,16.7],[0.455,17.7],[0.485,17.0],[0.515,17.9],[0.545,17.2],[0.575,18.2],[0.605,17.5],[0.635,18.4],[0.665,17.7],[0.695,18.7],[0.725,18.0],[0.755,18.9],[0.785,18.3],[0.815,19.2],[0.845,18.5],[0.875,19.5],[0.905,18.8],[0.935,19.9],[0.965,19.1],[0.985,20.2]];
const p3Ite = [[-0.99,-1.6],[-0.99,0.7],[-0.98,-0.3],[-0.98,-2.0],[-0.97,0.9],[-0.97,-1.1],[-0.96,0.2],[-0.96,1.4],[-0.95,-0.8],[-0.94,1.0],[-0.94,-0.2],[-0.93,0.6],[-0.92,1.9],[-0.92,-0.5],[-0.91,0.9],[-0.9,2.3],[-0.9,0.1],[-0.89,1.4],[-0.88,-0.9],[-0.88,2.6],[-0.87,1.1],[-0.86,2.0],[-0.85,0.5],[-0.84,3.2],[-0.83,1.7],[-0.82,2.9],[-0.81,1.3],[-0.8,2.4],[-0.79,3.8],[-0.78,2.0],[-0.77,4.4],[-0.76,2.7],[-0.75,1.6],[-0.74,3.5],[-0.73,2.4],[-0.72,4.1],[-0.71,3.0],[-0.7,4.6],[-0.69,2.5],[-0.68,3.7],[-0.67,4.8],[-0.66,3.1],[-0.65,4.2],[-0.64,2.9],[-0.63,5.2],[-0.62,3.8],[-0.61,4.5],[-0.6,3.3],[-0.59,4.9],[-0.58,4.0],[-0.57,2.8],[-0.56,4.6],[-0.55,3.5],[-0.54,5.5],[-0.53,4.1],[-0.52,2.9],[-0.51,3.6],[-0.5,4.6],[-0.49,2.7],[-0.48,3.9],[-0.47,1.9],[-0.46,3.2],[-0.45,4.3],[-0.44,2.5],[-0.43,3.6],[-0.42,1.4],[-0.41,3.0],[-0.4,4.0],[-0.39,2.2],[-0.38,3.3],[-0.37,0.9],[-0.36,2.6],[-0.35,3.7],[-0.34,1.8],[-0.33,2.9],[-0.32,0.3],[-0.31,2.2],[-0.3,3.4],[-0.29,1.5],[-0.28,2.6],[-0.27,3.8],[-0.26,1.9],[-0.25,2.9],[-0.24,1.2],[-0.23,3.3],[-0.22,2.1],[-0.21,4.0],[-0.2,2.6],[-0.19,1.6],[-0.18,3.5],[-0.17,2.4],[-0.16,4.4],[-0.15,3.0],[-0.14,1.9],[-0.13,4.1],[-0.12,3.2],[-0.11,5.0],[-0.1,3.6],[-0.09,2.8],[-0.08,4.6],[-0.07,3.9],[-0.06,5.3],[-0.05,4.2],[-0.04,3.1],[-0.03,5.0],[-0.02,4.4],[-0.01,5.8],[0,5.0],[0.01,3.9],[0.02,5.6],[0.03,4.8],[0.04,6.3],[0.05,5.4],[0.06,4.5],[0.07,6.5],[0.08,5.7],[0.09,7.0],[0.1,6.1],[0.11,3.4],[0.12,6.8],[0.13,5.9],[0.14,7.5],[0.15,6.6],[0.16,5.5],[0.17,7.2],[0.18,6.4],[0.19,8.3],[0.2,7.1],[0.21,6.2],[0.22,7.9],[0.23,7.0],[0.24,8.6],[0.25,7.5],[0.26,6.8],[0.27,8.4],[0.28,7.6],[0.29,9.6],[0.3,8.0],[0.31,6.9],[0.32,8.8],[0.33,7.7],[0.34,9.3],[0.35,8.2],[0.36,7.1],[0.37,8.9],[0.38,7.8],[0.39,10.0],[0.4,7.4],[0.41,8.5],[0.42,6.8],[0.43,7.9],[0.44,9.1],[0.45,7.2],[0.46,8.3],[0.47,6.5],[0.48,7.7],[0.49,9.5],[0.5,7.0],[0.52,8.1],[0.53,6.2],[0.54,7.5],[0.55,8.6],[0.56,6.9],[0.57,7.8],[0.58,5.8],[0.59,7.2],[0.6,8.4],[0.61,6.6],[0.62,7.6],[0.63,5.5],[0.64,7.0],[0.65,8.2],[0.66,6.3],[0.67,7.4],[0.68,5.9],[0.69,7.9],[0.7,6.7],[0.71,8.6],[0.72,7.1],[0.73,5.8],[0.74,7.7],[0.75,6.5],[0.76,8.3],[0.77,7.3],[0.78,6.1],[0.79,8.0],[0.8,7.0],[0.81,8.8],[0.82,7.5],[0.83,6.4],[0.84,8.5],[0.85,7.6],[0.86,9.4],[0.87,8.1],[0.88,6.9],[0.89,8.9],[0.9,7.8],[0.91,9.7],[0.92,8.5],[0.93,7.3],[0.94,9.3],[0.95,8.4],[0.96,10.1],[0.97,9.0],[0.97,7.5],[0.98,10.4],[0.98,8.7],[0.99,11.7],[0.99,9.5]];
const p3IteB = [[-0.985,-0.9],[-0.975,0.4],[-0.955,-0.4],[-0.945,0.8],[-0.925,0.3],[-0.905,1.5],[-0.885,0.7],[-0.865,1.8],[-0.845,1.2],[-0.825,2.3],[-0.805,1.8],[-0.785,2.9],[-0.765,2.3],[-0.745,3.3],[-0.725,2.8],[-0.705,3.9],[-0.685,3.2],[-0.665,4.3],[-0.645,3.5],[-0.625,4.6],[-0.605,3.8],[-0.585,4.4],[-0.565,3.6],[-0.545,4.5],[-0.525,3.3],[-0.505,4.1],[-0.485,3.2],[-0.465,4.0],[-0.445,2.8],[-0.425,3.7],[-0.405,2.6],[-0.385,3.5],[-0.365,2.2],[-0.345,3.1],[-0.325,2.0],[-0.305,2.9],[-0.285,1.9],[-0.265,3.1],[-0.245,2.3],[-0.225,3.4],[-0.205,2.2],[-0.185,3.6],[-0.165,2.7],[-0.145,3.9],[-0.125,3.0],[-0.105,4.4],[-0.085,3.5],[-0.065,4.9],[-0.045,4.0],[-0.025,5.3],[-0.005,4.6],[0.015,5.9],[0.035,5.1],[0.055,6.3],[0.075,5.4],[0.095,6.9],[0.115,6.0],[0.135,7.2],[0.155,6.3],[0.175,7.7],[0.195,6.8],[0.215,8.1],[0.235,7.3],[0.255,8.4],[0.275,7.6],[0.295,8.9],[0.315,7.8],[0.335,8.6],[0.355,7.5],[0.375,8.4],[0.395,7.3],[0.415,8.3],[0.435,7.1],[0.455,8.0],[0.475,6.9],[0.495,8.1],[0.515,7.0],[0.535,7.9],[0.555,6.7],[0.575,7.7],[0.595,6.8],[0.615,7.9],[0.635,6.9],[0.655,7.8],[0.675,6.9],[0.695,8.1],[0.715,7.0],[0.735,8.2],[0.755,7.2],[0.775,8.4],[0.795,7.4],[0.815,8.6],[0.835,7.8],[0.855,9.0],[0.875,8.1],[0.895,9.3],[0.915,8.4],[0.935,9.7],[0.955,8.8],[0.975,10.0],[0.985,9.2]];

// ---------- panel 4 (Lei and Candes) ----------
const p4TreatedCurve = [10.6,12.8,14.2,14.9,14.7,14.3,14.3,15.2,16.6,18.2,20.1,22.0,23.6,25.0,25.2,25.0,24.9,25.2,26.3,27.4,28.6];
const p4UntreatedCurve = [10.1,12.5,15.1,17.4,20.1];
const p4Cate = [1.7,2.0,2.3,2.5,2.6,2.9,2.9,2.9,2.9,3.2,4.3,5.8,7.4,8.2,8.6,8.5,8.2,7.9,7.7,9.0,10.6];
const leiExactX = [-0.995,-0.9,-0.6,-0.25,-0.08,0.03,0.07,0.15,0.45,0.6,0.75,0.99];
const leiExactUpper = [12.3,12.5,12.6,12.8,16.9,17.0,17.3,17.9,19.6,22.0,23.7,23.7];
const leiExactLower = [-12,-12,-12,-12,-12,-5.3,-3.4,-1.8,-2.6,-3.1,-3.4,-3.4];
const leiInexactX = [-0.995,-0.8,-0.25,0.15,0.6,0.99];
const leiInexactUpper = [3.7,3.2,7.5,10.6,12.9,12.9];
const leiInexactLower = [-0.8,0.8,1.0,6.0,5.8,5.8];
const p4Treated = [[-0.99,7.9],[-0.98,6.3],[-0.97,9.5],[-0.96,11.8],[-0.94,10.4],[-0.93,12.1],[-0.91,9.1],[-0.9,14.6],[-0.88,11.6],[-0.87,13.7],[-0.85,15.2],[-0.84,10.8],[-0.82,13.3],[-0.8,15.9],[-0.79,12.2],[-0.77,14.6],[-0.75,13.1],[-0.73,16.2],[-0.71,18.8],[-0.69,15.3],[-0.67,12.8],[-0.65,17.4],[-0.63,14.7],[-0.61,16.9],[-0.59,13.9],[-0.57,18.3],[-0.55,15.6],[-0.53,12.6],[-0.51,17.2],[-0.49,14.5],[-0.47,19.9],[-0.45,16.0],[-0.43,13.6],[-0.41,9.3],[-0.39,15.0],[-0.37,17.6],[-0.35,14.2],[-0.33,16.4],[-0.31,18.5],[-0.29,15.1],[-0.27,13.5],[-0.25,17.0],[-0.23,18.6],[-0.21,14.7],[-0.19,16.3],[-0.17,20.8],[-0.15,17.5],[-0.13,19.3],[-0.11,15.8],[-0.09,18.0],[-0.07,20.4],[-0.05,17.2],[-0.03,21.9],[-0.01,19.1],[0.01,23.7],[0.03,20.6],[0.05,22.6],[0.07,18.7],[0.09,21.6],[0.11,24.6],[0.13,22.1],[0.15,26.7],[0.17,20.1],[0.19,24.0],[0.21,26.2],[0.23,22.8],[0.25,25.4],[0.27,23.3],[0.29,27.1],[0.31,21.4],[0.33,25.9],[0.35,27.4],[0.37,23.8],[0.39,26.0],[0.41,22.3],[0.43,24.7],[0.45,27.0],[0.47,23.6],[0.49,25.6],[0.51,21.9],[0.53,26.4],[0.55,24.3],[0.57,25.8],[0.59,22.6],[0.61,27.5],[0.63,24.9],[0.65,26.8],[0.67,23.4],[0.69,25.5],[0.71,30.4],[0.73,27.2],[0.75,24.1],[0.77,28.5],[0.79,26.1],[0.81,23.2],[0.83,27.9],[0.85,25.3],[0.87,29.7],[0.89,26.8],[0.91,30.9],[0.93,28.2],[0.95,25.0],[0.97,29.1],[0.99,30.4]];
const p4TreatedB = [[-0.985,11.4],[-0.955,10.2],[-0.925,13.3],[-0.895,12.0],[-0.865,14.5],[-0.835,13.2],[-0.805,15.3],[-0.775,13.8],[-0.745,15.8],[-0.715,14.2],[-0.685,15.9],[-0.655,14.0],[-0.625,15.6],[-0.595,13.8],[-0.565,15.2],[-0.535,13.6],[-0.505,15.1],[-0.475,13.5],[-0.445,15.3],[-0.415,13.7],[-0.385,15.6],[-0.355,14.3],[-0.325,16.2],[-0.295,14.8],[-0.265,16.8],[-0.235,15.5],[-0.205,17.5],[-0.175,16.2],[-0.145,18.6],[-0.115,17.3],[-0.085,19.4],[-0.055,18.3],[-0.025,20.9],[0.005,19.5],[0.035,21.8],[0.065,20.6],[0.095,23.0],[0.125,21.7],[0.155,24.0],[0.185,22.7],[0.215,25.1],[0.245,23.6],[0.275,25.9],[0.305,24.2],[0.335,26.1],[0.365,24.5],[0.395,26.2],[0.425,24.4],[0.455,26.0],[0.485,24.2],[0.515,25.8],[0.545,24.0],[0.575,25.9],[0.605,24.1],[0.635,26.0],[0.665,24.5],[0.695,26.4],[0.725,24.7],[0.755,27.1],[0.785,25.6],[0.815,27.7],[0.845,26.2],[0.875,28.4],[0.905,26.9],[0.935,29.3],[0.965,27.6],[0.985,29.9]];
const p4Untreated = [[-0.99,9.6],[-0.97,8.7],[-0.96,11.3],[-0.94,10.1],[-0.92,8.5],[-0.9,11.8],[-0.88,10.6],[-0.86,12.5],[-0.84,9.9],[-0.82,11.4],[-0.8,8.1],[-0.78,12.0],[-0.76,10.8],[-0.74,12.9],[-0.72,11.2],[-0.7,10.0],[-0.68,12.4],[-0.66,11.6],[-0.64,13.2],[-0.62,10.5],[-0.6,12.2],[-0.58,11.0],[-0.56,13.6],[-0.54,12.6],[-0.52,10.9],[-0.5,13.0],[-0.48,11.8],[-0.46,14.1],[-0.44,12.5],[-0.42,13.5],[-0.4,15.0],[-0.38,12.1],[-0.36,13.8],[-0.34,12.9],[-0.32,14.4],[-0.3,11.5],[-0.28,13.6],[-0.26,14.9],[-0.24,12.7],[-0.22,13.9],[-0.2,15.3],[-0.18,14.1],[-0.16,12.3],[-0.14,14.6],[-0.12,15.7],[-0.1,13.5],[-0.08,16.2],[-0.06,14.7],[-0.04,15.9],[-0.02,14.0],[0,16.5],[0.02,15.2],[0.04,13.8],[0.06,16.0],[0.08,15.4],[0.1,17.1],[0.12,15.8],[0.14,14.6],[0.16,17.5],[0.18,16.3],[0.2,15.1],[0.22,17.0],[0.24,16.1],[0.26,18.1],[0.28,15.6],[0.3,17.4],[0.32,16.5],[0.34,18.3],[0.36,17.0],[0.38,15.8],[0.4,18.7],[0.42,17.5],[0.44,20.1],[0.46,16.8],[0.48,19.6],[0.5,17.9],[0.52,16.4],[0.54,18.4],[0.56,17.2],[0.58,19.3],[0.6,18.0],[0.62,16.9],[0.64,18.8],[0.66,17.6],[0.68,19.8],[0.7,18.5],[0.72,17.3],[0.74,20.3],[0.76,18.9],[0.78,16.4],[0.8,19.6],[0.82,18.2],[0.84,20.2],[0.86,19.1],[0.88,17.8],[0.9,20.6],[0.92,19.4],[0.94,20.9],[0.96,18.7],[0.98,20.0],[0.99,19.2]];
const p4UntreatedB = [[-0.985,10.6],[-0.955,9.7],[-0.925,10.9],[-0.895,10.1],[-0.865,11.3],[-0.835,10.5],[-0.805,11.6],[-0.775,10.9],[-0.745,12.0],[-0.715,11.1],[-0.685,12.3],[-0.655,11.4],[-0.625,12.6],[-0.595,11.8],[-0.565,12.9],[-0.535,12.1],[-0.505,13.2],[-0.475,12.3],[-0.445,13.5],[-0.415,12.7],[-0.385,13.8],[-0.355,13.0],[-0.325,14.1],[-0.295,13.3],[-0.265,14.3],[-0.235,13.7],[-0.205,14.7],[-0.175,13.9],[-0.145,15.0],[-0.115,14.2],[-0.085,15.3],[-0.055,14.6],[-0.025,15.6],[0.005,14.8],[0.035,15.8],[0.065,15.1],[0.095,16.1],[0.125,15.3],[0.155,16.4],[0.185,15.6],[0.215,16.6],[0.245,15.9],[0.275,16.9],[0.305,16.2],[0.335,17.2],[0.365,16.4],[0.395,17.5],[0.425,16.7],[0.455,17.7],[0.485,17.0],[0.515,18.0],[0.545,17.3],[0.575,18.3],[0.605,17.6],[0.635,18.6],[0.665,17.9],[0.695,18.9],[0.725,18.2],[0.755,19.2],[0.785,18.5],[0.815,19.5],[0.845,18.8],[0.875,19.8],[0.905,19.1],[0.935,20.2],[0.965,19.4],[0.985,20.5]];
const p4Ite = [[-0.99,0.8],[-0.99,3.2],[-0.98,2.5],[-0.98,-1.5],[-0.97,-4.5],[-0.97,3.0],[-0.96,-5.2],[-0.96,1.2],[-0.95,-4.0],[-0.95,4.6],[-0.94,-0.6],[-0.93,2.7],[-0.92,-2.2],[-0.91,5.1],[-0.9,1.5],[-0.89,-3.9],[-0.88,3.3],[-0.87,0.2],[-0.86,4.8],[-0.85,-1.2],[-0.84,2.3],[-0.83,6.0],[-0.82,-0.3],[-0.81,3.9],[-0.8,1.1],[-0.79,4.5],[-0.78,-2.0],[-0.77,2.9],[-0.76,0.6],[-0.75,-4.5],[-0.74,5.4],[-0.73,1.9],[-0.72,-0.9],[-0.71,3.6],[-0.7,6.3],[-0.69,0.1],[-0.68,2.8],[-0.67,-1.5],[-0.66,4.7],[-0.65,1.4],[-0.64,3.9],[-0.63,-0.3],[-0.62,5.8],[-0.61,2.2],[-0.6,7.0],[-0.59,-2.4],[-0.58,3.4],[-0.57,0.8],[-0.56,5.2],[-0.55,-0.7],[-0.54,2.6],[-0.53,4.4],[-0.52,1.6],[-0.51,-1.9],[-0.49,3.8],[-0.48,-3.5],[-0.47,2.1],[-0.46,5.6],[-0.45,0.4],[-0.44,3.0],[-0.43,-1.1],[-0.42,4.9],[-0.41,1.9],[-0.39,-0.2],[-0.38,3.5],[-0.37,6.2],[-0.36,1.0],[-0.35,-1.7],[-0.34,4.2],[-0.33,2.4],[-0.32,-3.8],[-0.31,5.0],[-0.29,0.7],[-0.28,3.1],[-0.27,-0.9],[-0.26,-3.7],[-0.25,4.5],[-0.24,1.8],[-0.23,6.5],[-0.22,-1.6],[-0.21,2.8],[-0.19,0.2],[-0.18,3.7],[-0.17,8.3],[-0.16,-1.2],[-0.15,5.6],[-0.14,1.5],[-0.13,-2.6],[-0.12,4.3],[-0.11,2.5],[-0.09,6.0],[-0.08,0.9],[-0.07,8.6],[-0.06,3.4],[-0.05,-0.5],[-0.04,5.3],[-0.03,9.3],[-0.02,-2.7],[-0.01,2.1],[0,7.1],[0.01,-2.6],[0.02,5.9],[0.03,9.5],[0.04,2.9],[0.05,7.7],[0.06,0.3],[0.07,11.2],[0.08,4.6],[0.09,13.5],[0.1,-2.1],[0.11,6.3],[0.12,9.8],[0.13,3.2],[0.14,8.0],[0.15,0.9],[0.16,10.8],[0.17,5.1],[0.18,7.2],[0.19,2.4],[0.21,11.8],[0.22,6.0],[0.23,9.1],[0.24,4.1],[0.25,7.9],[0.26,12.4],[0.27,5.2],[0.28,10.0],[0.29,8.6],[0.31,13.2],[0.32,6.8],[0.33,9.4],[0.34,3.3],[0.35,11.1],[0.36,8.3],[0.37,5.5],[0.38,10.5],[0.39,7.4],[0.41,12.1],[0.42,8.9],[0.43,4.5],[0.44,10.6],[0.45,6.9],[0.46,9.5],[0.47,3.0],[0.48,11.7],[0.49,7.6],[0.5,12.8],[0.51,5.8],[0.52,9.9],[0.53,2.2],[0.54,8.1],[0.55,14.8],[0.56,6.4],[0.57,10.7],[0.58,4.0],[0.59,8.8],[0.61,11.5],[0.62,5.2],[0.63,8.6],[0.64,13.6],[0.65,3.6],[0.66,9.7],[0.67,6.7],[0.68,10.9],[0.69,-0.3],[0.7,8.0],[0.71,12.5],[0.72,4.9],[0.73,9.3],[0.74,-0.7],[0.75,7.1],[0.76,11.0],[0.77,5.6],[0.78,8.7],[0.79,3.2],[0.81,12.9],[0.82,2.6],[0.83,9.6],[0.84,6.2],[0.85,11.4],[0.86,4.4],[0.87,8.2],[0.88,2.3],[0.89,10.4],[0.9,14.5],[0.91,7.6],[0.92,11.9],[0.93,5.0],[0.94,13.3],[0.95,9.1],[0.96,6.3],[0.97,14.1],[0.98,8.4],[0.99,10.2],[0.99,12.0]];
const p4IteB = [[-0.985,2.8],[-0.975,1.9],[-0.975,3.5],[-0.965,2.4],[-0.955,0.4],[-0.945,3.1],[-0.935,1.6],[-0.915,0.2],[-0.895,2.9],[-0.875,4.1],[-0.855,1.4],[-0.835,3.0],[-0.815,-0.8],[-0.795,2.2],[-0.775,4.2],[-0.755,1.0],[-0.735,3.3],[-0.715,0.5],[-0.695,2.5],[-0.675,4.9],[-0.655,0.9],[-0.635,2.9],[-0.615,-0.6],[-0.595,4.1],[-0.575,2.0],[-0.555,3.7],[-0.535,0.3],[-0.515,2.8],[-0.495,5.0],[-0.475,1.2],[-0.455,3.2],[-0.435,-0.3],[-0.415,2.5],[-0.395,4.6],[-0.375,1.6],[-0.355,3.0],[-0.335,0.2],[-0.315,2.2],[-0.295,4.8],[-0.275,1.7],[-0.255,2.9],[-0.235,0.4],[-0.215,3.9],[-0.195,2.0],[-0.175,5.2],[-0.155,0.8],[-0.135,3.5],[-0.115,6.4],[-0.095,2.3],[-0.075,4.6],[-0.055,1.2],[-0.035,4.0],[-0.015,6.6],[0.005,3.3],[0.025,5.0],[0.045,1.8],[0.065,6.2],[0.085,4.4],[0.105,7.5],[0.125,5.3],[0.145,2.9],[0.165,7.9],[0.185,5.9],[0.205,9.4],[0.225,7.6],[0.245,5.8],[0.265,9.1],[0.285,7.0],[0.305,10.2],[0.325,8.3],[0.345,6.5],[0.365,9.7],[0.385,8.1],[0.405,10.5],[0.425,7.4],[0.445,9.0],[0.465,6.1],[0.485,10.0],[0.505,8.3],[0.525,6.6],[0.545,9.6],[0.565,7.7],[0.585,10.4],[0.605,6.8],[0.625,9.0],[0.645,7.5],[0.665,5.6],[0.685,8.9],[0.705,6.9],[0.725,9.8],[0.745,7.0],[0.765,5.3],[0.785,8.2],[0.805,10.1],[0.825,6.6],[0.845,8.8],[0.865,11.3],[0.885,7.9],[0.905,10.6],[0.925,8.5],[0.945,12.1],[0.965,9.4],[0.985,11.5]];

// ---------- helpers ----------
const FONT = "'Liberation Sans', Arial, Helvetica, sans-serif";
const pts = a => a.map(p => ({x:p[0], y:p[1]}));
const zip = (xs, ys) => xs.map((x,i) => ({x, y:ys[i]}));
const near = (v, m) => Object.keys(m).find(k => Math.abs(parseFloat(k) - v) < 1e-6);

function scatter(data, color, order){
  return {data: pts(data), showLine:false, pointRadius:3.9, pointHoverRadius:3.9, pointBorderWidth:0,
    pointBackgroundColor:color, pointBorderColor:'rgba(0,0,0,0)', borderColor:'rgba(0,0,0,0)', order};
}
function curve(xs, ys, color, width, order){
  return {data: zip(xs, ys), borderColor:color, borderWidth:width, pointRadius:0, tension:0.4,
    fill:false, order, borderCapStyle:'butt'};
}
function band(xs, up, lo, color, order, stepped){
  return [
    {data: zip(xs, up), borderWidth:0, borderColor:'rgba(0,0,0,0)', pointRadius:0, backgroundColor:color,
      fill:'+1', order, tension: stepped ? 0 : 0.4, stepped: stepped ? 'before' : false},
    {data: zip(xs, lo), borderWidth:0, borderColor:'rgba(0,0,0,0)', pointRadius:0, fill:false, order,
      tension: stepped ? 0 : 0.4, stepped: stepped ? 'before' : false}
  ];
}

function makePanel(id, title, datasets, geo){
  new Chart(document.getElementById(id), {
    type:'line',
    data:{datasets},
    options:{
      responsive:false, animation:false, devicePixelRatio:1, events:[],
      layout:{padding:{left:0, right:geo.padRight, top:0, bottom:0}},
      plugins:{
        legend:{display:false}, tooltip:{enabled:false},
        title:{display:true, text:title, align:'start', fullSize:false, color:'#000',
          font:{family:FONT, size:23.5, weight:'normal'}, padding:{top:1, bottom:14.2}}
      },
      scales:{
        x:{type:'linear', min:-1.09, max:1.09,
          afterBuildTicks: s => { s.ticks = xGrid.map(v => ({value:v})); },
          afterFit: s => { s.height = 67.7; },
          grid:{color:'#EBEBEB', drawTicks:false, lineWidth: c => near(c.tick.value, xTickLabels) !== undefined ? 1.7 : 0.9},
          border:{display:false},
          ticks:{autoSkip:false, maxRotation:0, padding:7, color:'#4D4D4D', font:{family:FONT, size:15.7},
            callback: v => { const k = near(v, xTickLabels); return k === undefined ? '' : xTickLabels[k]; }},
          title:{display:true, text:'X', color:'#000', font:{family:FONT, size:19.6}, padding:{top:0, bottom:18.2}}
        },
        y:{type:'linear', min:-6.65, max:31.62,
          afterBuildTicks: s => { s.ticks = yGrid.map(v => ({value:v})); },
          afterFit: s => { s.width = geo.yWidth; },
          grid:{color:'#EBEBEB', drawTicks:false, lineWidth: c => near(c.tick.value, yTickLabels) !== undefined ? 1.7 : 0.9},
          border:{display:false},
          ticks:{autoSkip:false, padding:10, color:'#4D4D4D', font:{family:FONT, size:15.7},
            callback: v => { const k = near(v, yTickLabels); return k === undefined ? '' : yTickLabels[k]; }},
          title:{display:true, text:'Y', color:'#000', font:{family:FONT, size:19.6}, padding:{top:geo.yTitlePad, bottom:0}}
        }
      }
    }
  });
}

const TREAT_PT = 'rgba(255,99,71,0.5)', UNTR_PT = 'rgba(70,130,180,0.45)', ITE_PT = 'rgba(0,0,0,0.5)';
const CW_FILL = 'rgba(34,139,34,0.3)', LEI_EX = 'rgba(102,194,165,0.3)', LEI_IN = 'rgba(18,72,58,0.3)';

function cwPanel(treated, untreated, ite, tCurve, uCurve, cate, up, lo){
  return [
    scatter(ite, ITE_PT, 0),
    curve(curveX, cate, '#32CD32', 6, 1),
    ...band(curveX, up, lo, CW_FILL, 3, false),
    curve(curveX, tCurve, '#FF6347', 3.6, 4),
    curve(untreatedX, uCurve, '#4682B4', 3.6, 4),
    scatter(treated, TREAT_PT, 5),
    scatter(untreated, UNTR_PT, 5)
  ];
}

const geoL = {yWidth:61.5, padRight:7.5, yTitlePad:4.7};
const geoR = {yWidth:65, padRight:4, yTitlePad:7.9};

makePanel('c1', titles[0], cwPanel(p1Treated.concat(p1TreatedB), p1Untreated.concat(p1UntreatedB), p1Ite.concat(p1IteB), p1TreatedCurve, p1UntreatedCurve, p1Cate, p1Upper, p1Lower), geoL);
makePanel('c2', titles[1], cwPanel(p2Treated.concat(p2TreatedB), p2Untreated.concat(p2UntreatedB), p2Ite.concat(p2IteB), p2TreatedCurve, p2UntreatedCurve, p2Cate, p2Upper, p2Lower), geoR);
makePanel('c3', titles[2], cwPanel(p3Treated.concat(p3TreatedB), p3Untreated.concat(p3UntreatedB), p3Ite.concat(p3IteB), p3TreatedCurve, p3UntreatedCurve, p3Cate, p3Upper, p3Lower), geoL);
makePanel('c4', titles[3], [
    scatter(p4Ite.concat(p4IteB), ITE_PT, 0),
    curve(curveX, p4Cate, '#32CD32', 6, 1),
    ...band(leiExactX, leiExactUpper, leiExactLower, LEI_EX, 2, true),
    ...band(leiInexactX, leiInexactUpper, leiInexactLower, LEI_IN, 3, true),
    curve(curveX, p4TreatedCurve, '#FF6347', 3.6, 4),
    curve(untreatedX, p4UntreatedCurve, '#4682B4', 3.6, 4),
    scatter(p4Treated.concat(p4TreatedB), TREAT_PT, 5),
    scatter(p4Untreated.concat(p4UntreatedB), UNTR_PT, 5)
  ], geoR);
</script>
</body></html>
